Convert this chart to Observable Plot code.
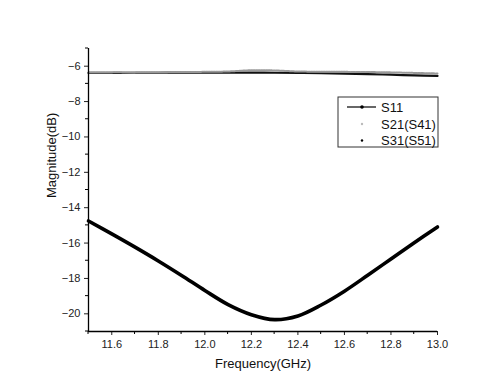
<!DOCTYPE html>
<html>
<head>
<meta charset="utf-8">
<script src="https://cdn.jsdelivr.net/npm/d3@7"></script>
<script src="https://cdn.jsdelivr.net/npm/@observablehq/plot@0.6"></script>
<style>
  html, body { margin: 0; padding: 0; background: #fff; }
  #chart { position: relative; width: 492px; height: 374px; }
  #chart svg { font-family: "Liberation Sans", Arial, sans-serif; }
</style>
</head>
<body>
<div id="chart"></div>
<script>
// Frequency samples (GHz)
const freq = [11.5, 11.6, 11.7, 11.8, 11.9, 12.0, 12.1, 12.2, 12.3, 12.4, 12.5, 12.6, 12.7, 12.8, 12.9, 13.0];
// Return loss S11 (dB)
const s11 = [-14.75, -15.48, -16.23, -17.01, -17.83, -18.68, -19.48, -20.05, -20.33, -20.12, -19.5, -18.72, -17.82, -16.9, -15.98, -15.09];
// Coupling S21(S41) (dB)
const s21 = [-6.36, -6.35, -6.35, -6.34, -6.33, -6.32, -6.30, -6.23, -6.24, -6.30, -6.31, -6.32, -6.33, -6.35, -6.38, -6.41];
// Coupling S31(S51) (dB)
const s31 = [-6.38, -6.38, -6.37, -6.37, -6.36, -6.36, -6.36, -6.36, -6.37, -6.38, -6.40, -6.42, -6.45, -6.48, -6.52, -6.55];

const seriesNames = ["S11", "S21(S41)", "S31(S51)"];
const xTicks = [11.6, 11.8, 12.0, 12.2, 12.4, 12.6, 12.8, 13.0];
const xMinor = [11.5, 11.7, 11.9, 12.1, 12.3, 12.5, 12.7, 12.9];
const yTicks = [-6, -8, -10, -12, -14, -16, -18, -20];
const yMinor = [-5, -7, -9, -11, -13, -15, -17, -19, -21];

const rows = (vals) => freq.map((f, i) => ({f, v: vals[i]}));
const d11 = rows(s11), d21 = rows(s21), d31 = rows(s31);

const plot = Plot.plot({
  width: 492,
  height: 374,
  marginLeft: 88,
  marginRight: 55,
  marginTop: 48,
  marginBottom: 43,
  style: {fontFamily: "Liberation Sans, Arial, sans-serif", fontSize: "11px", color: "#222"},
  x: {domain: [11.5, 13.0]},
  y: {domain: [-21, -5]},
  marks: [
    // S31 black band and S21 grey dotted band near -6 dB
    Plot.line(d31, {x: "f", y: "v", stroke: "#111", strokeWidth: 2.2, curve: "catmull-rom"}),
    Plot.line(d21, {x: "f", y: "v", stroke: "#999", strokeWidth: 2, strokeDasharray: "1.5,1", curve: "catmull-rom"}),
    // S11 thick curve
    Plot.line(d11, {x: "f", y: "v", stroke: "#000", strokeWidth: 3.6, curve: "catmull-rom"}),
    // axes
    Plot.axisX({ticks: xTicks, tickFormat: d3.format(".1f"), tickSize: 4, tickPadding: 5, label: null, fontSize: 11}),
    Plot.axisY({ticks: yTicks, tickSize: 4, tickPadding: 4, label: null, fontSize: 11}),
    Plot.ruleX([11.5], {stroke: "#000", strokeWidth: 1.3}),
    Plot.ruleY([-21], {stroke: "#000", strokeWidth: 1.3}),
    Plot.text(["Frequency(GHz)"], {frameAnchor: "bottom", dy: 36, fontSize: 13, fill: "#111"}),
    Plot.text(["Magnitude(dB)"], {frameAnchor: "left", dx: -37, dy: 8, rotate: -90, fontSize: 13, fill: "#111"})
  ]
});

// minor ticks drawn with d3 using the plot's own scales
const svg = d3.select(plot);
const xs = plot.scale("x"), ys = plot.scale("y");
const gm = svg.append("g").attr("stroke", "#000").attr("stroke-width", 1);
xMinor.forEach(v => {
  const X = xs.apply(v), Y = ys.apply(-21);
  gm.append("line").attr("x1", X).attr("x2", X).attr("y1", Y).attr("y2", Y + 3);
});
yMinor.forEach(v => {
  const X = xs.apply(11.5), Y = ys.apply(v);
  gm.append("line").attr("x1", X - 3).attr("x2", X).attr("y1", Y).attr("y2", Y);
});

// legend box
const lg = svg.append("g").attr("font-size", 13).attr("fill", "#111").attr("text-anchor", "start");
const lx = 338, ly = 97;
lg.append("rect").attr("x", lx).attr("y", ly).attr("width", 100).attr("height", 50)
  .attr("fill", "#fff").attr("stroke", "#333").attr("stroke-width", 1);
const items = [
  {name: seriesNames[0], y: ly + 10, kind: "line"},
  {name: seriesNames[1], y: ly + 27, kind: "grey"},
  {name: seriesNames[2], y: ly + 43.5, kind: "dot"}
];
items.forEach(it => {
  if (it.kind === "line") {
    lg.append("line").attr("x1", lx + 9).attr("x2", lx + 38).attr("y1", it.y).attr("y2", it.y)
      .attr("stroke", "#000").attr("stroke-width", 1.2);
    lg.append("circle").attr("cx", lx + 24).attr("cy", it.y).attr("r", 1.8).attr("fill", "#000");
  } else if (it.kind === "grey") {
    lg.append("circle").attr("cx", lx + 24).attr("cy", it.y).attr("r", 1.2).attr("fill", "#bbb");
  } else {
    lg.append("circle").attr("cx", lx + 24).attr("cy", it.y).attr("r", 1.2).attr("fill", "#000");
  }
  lg.append("text").attr("x", lx + 43).attr("y", it.y).attr("dy", "0.35em").attr("text-anchor", "start").text(it.name);
});

document.getElementById("chart").appendChild(plot);
</script>
</body>
</html>
